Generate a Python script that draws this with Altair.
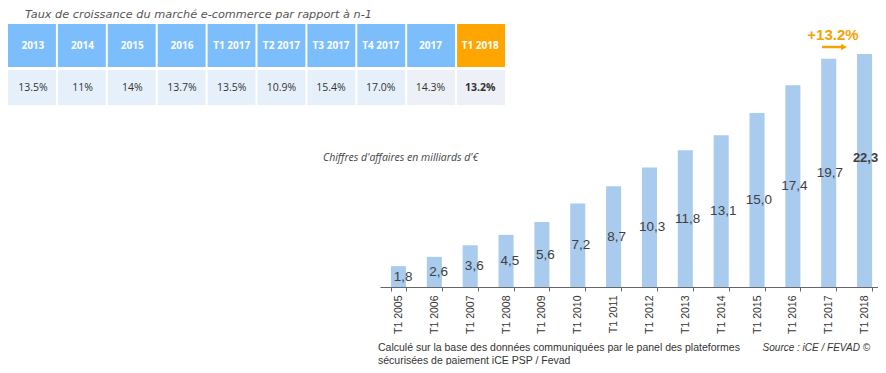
import altair as alt
import pandas as pd

# ---- data ----
periods = ["2013", "2014", "2015", "2016", "T1 2017", "T2 2017", "T3 2017", "T4 2017", "2017", "T1 2018"]
growth = ["13.5%", "11%", "14%", "13.7%", "13.5%", "10.9%", "15.4%", "17.0%", "14.3%", "13.2%"]

years = ["T1 2005", "T1 2006", "T1 2007", "T1 2008", "T1 2009", "T1 2010", "T1 2011",
         "T1 2012", "T1 2013", "T1 2014", "T1 2015", "T1 2016", "T1 2017", "T1 2018"]
revenue = [1.8, 2.6, 3.6, 4.5, 5.6, 7.2, 8.7, 10.3, 11.8, 13.1, 15.0, 17.4, 19.7, 22.3]

title_txt = "Taux de croissance du marché e-commerce par rapport à n-1"
unit_txt = "Chiffres d'affaires en milliards d'€"
growth_note = "+13.2%"
foot1 = "Calculé sur la base des données communiquées par le panel des plateformes"
foot2 = "sécurisées de paiement iCE PSP / Fevad"
source_txt = "Source : iCE / FEVAD ©"

ORANGE = "#FFA500"
HEAD_BLUE = "#7CBEFC"
BAR_BLUE = "#A8CBEE"

bars_df = pd.DataFrame({
    "period": years,
    "value": revenue,
    "label": [f"{v:.1f}".replace(".", ",") for v in revenue],
    "last": [p == years[-1] for p in years],
})
table_df = pd.DataFrame({
    "period": periods,
    "growth": growth,
    "last": [p == periods[-1] for p in periods],
    "grey": [p in ("2017", "T1 2018") for p in periods],
})

# ---- bar chart ----
xscale_b = alt.Scale(domain=years, paddingInner=0.58, paddingOuter=0.235, align=0.65)
yscale_b = alt.Scale(domain=[0, 20.1], clamp=True, nice=False, zero=True)

bars = alt.Chart(bars_df).mark_bar(color=BAR_BLUE).encode(
    x=alt.X("period:N", sort=years, scale=xscale_b,
            axis=alt.Axis(title=None, labelAngle=-90, labelFont="Liberation Sans",
                          labelFontSize=10.5, labelColor="#333333", labelPadding=4,
                          domainColor="#666666", tickColor="#666666", tickSize=4,
                          tickBand="extent")),
    y=alt.Y("value:Q", scale=yscale_b, axis=None),
)


def bar_label_layer(bold):
    return alt.Chart(bars_df).transform_filter(
        "datum.last" if bold else "!datum.last"
    ).transform_calculate(mid="datum.value / 2").mark_text(
        font="Liberation Sans", fontSize=13 if bold else 13.5, color="#404040",
        fontWeight="bold" if bold else "normal"
    ).encode(
        x=alt.X("period:N", sort=years, scale=xscale_b, axis=None),
        y=alt.Y("mid:Q", scale=yscale_b, axis=None),
        text="label:N",
    )


# ---- table ----
xscale_t = alt.Scale(domain=periods, range=[-372, 125], paddingInner=0.04, paddingOuter=0)
xt = alt.X("period:N", sort=periods, scale=xscale_t, axis=None)

head_rect = alt.Chart(table_df).mark_rect().encode(
    x=xt, y=alt.value(-30), y2=alt.value(13),
    color=alt.condition("datum.last", alt.value(ORANGE), alt.value(HEAD_BLUE)),
)
head_text = alt.Chart(table_df).mark_text(
    font="Open Sans", fontSize=10, fontWeight="bold", color="white"
).encode(x=xt, y=alt.value(-8.5), text="period:N")

data_rect = alt.Chart(table_df).mark_rect().encode(
    x=xt, y=alt.value(16), y2=alt.value(51),
    color=alt.condition("datum.grey", alt.value("#EDF0F6"), alt.value("#E6F0FB")),
)


def data_text_layer(bold):
    return alt.Chart(table_df).transform_filter(
        "datum.last" if bold else "!datum.last"
    ).mark_text(
        font="Open Sans", fontSize=10.5, color="#333333",
        fontWeight="bold" if bold else "normal"
    ).encode(x=xt, y=alt.value(33.5), text="growth:N")


# ---- annotations ----
ann_df = pd.DataFrame({"t": [title_txt]})
title_mark = alt.Chart(ann_df).mark_text(
    font="DejaVu Sans", fontSize=11.3, fontStyle="italic", color="#555555", align="left"
).encode(x=alt.value(-355), y=alt.value(-39.5), text=alt.value(title_txt))

unit_mark = alt.Chart(ann_df).mark_text(
    font="Open Sans", fontSize=10.5, fontStyle="italic", color="#444444", align="left"
).encode(x=alt.value(-57), y=alt.value(104), text=alt.value(unit_txt))

growth_mark = alt.Chart(ann_df).mark_text(
    font="Liberation Sans", fontSize=15, fontWeight="bold", color="#F5A300"
).encode(x=alt.value(453), y=alt.value(-19), text=alt.value(growth_note))

arrow_line = alt.Chart(ann_df).mark_rule(color="#F5A300", strokeWidth=2.5).encode(
    x=alt.value(442), x2=alt.value(463), y=alt.value(-7))
arrow_head = alt.Chart(ann_df).mark_point(
    shape="triangle-right", filled=True, color="#F5A300", size=45, opacity=1
).encode(x=alt.value(464), y=alt.value(-7))

foot_a = alt.Chart(ann_df).mark_text(
    font="Liberation Sans", fontSize=10.5, color="#333333", align="left"
).encode(x=alt.value(-2), y=alt.value(294), text=alt.value(foot1))
foot_b = alt.Chart(ann_df).mark_text(
    font="Liberation Sans", fontSize=10.5, color="#333333", align="left"
).encode(x=alt.value(-2), y=alt.value(307), text=alt.value(foot2))
src = alt.Chart(ann_df).mark_text(
    font="Liberation Sans", fontSize=10, fontStyle="italic", color="#333333", align="right"
).encode(x=alt.value(490), y=alt.value(294), text=alt.value(source_txt))

chart = alt.layer(
    head_rect, head_text, data_rect, data_text_layer(False), data_text_layer(True),
    bars, bar_label_layer(False), bar_label_layer(True),
    title_mark, unit_mark, growth_mark, arrow_line, arrow_head,
    foot_a, foot_b, src,
).resolve_scale(
    x="independent", y="independent", color="independent"
).properties(
    width=498, height=233,
    autosize=alt.AutoSizeParams(type="none"),
    padding={"left": 372, "top": 46, "right": 0, "bottom": 78},
).configure_view(strokeWidth=0)

chart.save("out.html", embed_options={"renderer": "svg", "actions": False})
